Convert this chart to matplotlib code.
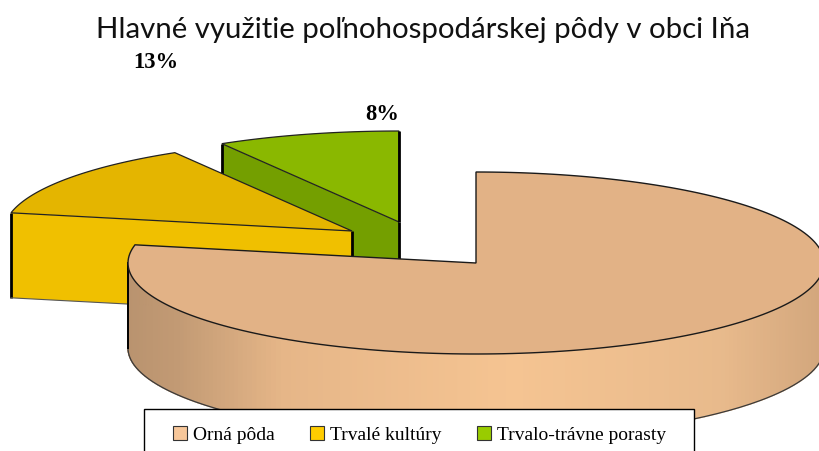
import numpy as np
import matplotlib
matplotlib.use("Agg")
import matplotlib.pyplot as plt
from matplotlib.patches import Polygon, Patch, Rectangle

title = "Hlavné využitie poľnohospodárskej pôdy v obci Iňa"
categories = ["Orná pôda", "Trvalé kultúry", "Trvalo-trávne porasty"]
values = [78.2, 13.3, 8.5]
shown_labels = [None, "13%", "8%"]

legend_colors = ["#F7C79A", "#FFCC00", "#99CC00"]
top_colors = ["#E2B286", "#E4B500", "#8AB800"]
face_colors = [None, "#F0C000", "#749F00"]
centers = [(476, 264), (352, 232), (399, 223)]
label_pos = [None, (156, 62), (382, 115)]
RX, RY, H = 348, 91, 85

fig = plt.figure(figsize=(8.19, 4.52), dpi=100, facecolor="white")
ax = fig.add_axes([0, 0, 1, 1])
ax.set_xlim(0, 819)
ax.set_ylim(452, 0)
ax.axis("off")

# start/end angles derived from the values (clockwise from 12 o'clock)
fr = np.array(values) / sum(values) * 360
starts = 90 - np.concatenate([[0], np.cumsum(fr)[:-1]])
ends = starts - fr


def rim(c, a0, a1, dz=0, n=200):
    t = np.radians(np.linspace(a0, a1, n))
    return np.column_stack([c[0] + RX * np.cos(t), c[1] - RY * np.sin(t) + dz])


def apex_poly(c, a0, a1):
    return np.vstack([[c], rim(c, a0, a1)])


# green and yellow: front cut face first, then top
for i in (2, 1):
    c = centers[i]
    base = 2 + (2 - i) * 3
    p = rim(c, starts[i], starts[i], n=1)[0]
    ax.add_patch(Polygon([p, c, (c[0], c[1] + H), (p[0], p[1] + H)], closed=True,
                         facecolor=face_colors[i], edgecolor="none", zorder=base))
    ax.plot([p[0], p[0]], [p[1], p[1] + H], color="black", lw=2.0, zorder=base + 1, solid_capstyle="butt")
    ax.plot([c[0], c[0]], [c[1], c[1] + H], color="black", lw=2.0, zorder=base + 1, solid_capstyle="butt")
    ax.plot([p[0], c[0]], [p[1] + H, c[1] + H], color="#555555", lw=0.8, zorder=base + 1)
    ax.add_patch(Polygon(apex_poly(c, starts[i], ends[i]), closed=True, facecolor=top_colors[i],
                         edgecolor="#222222", lw=0.9, joinstyle="miter", zorder=base + 2))
    if i == 2:
        ax.plot([c[0], c[0]], [c[1] - RY, c[1]], color="black", lw=2.0, zorder=base + 3, solid_capstyle="butt")

# big slice: shaded side wall
c = centers[0]
stops_t = [0.0, 0.07, 0.22, 0.55, 0.85, 1.0]
stops_r = np.array([[0xB9, 0x93, 0x6F], [0xC2, 0x9A, 0x74], [0xE6, 0xB6, 0x88],
                    [0xF5, 0xC4, 0x92], [0xE8, 0xBA, 0x8C], [0xD2, 0xA6, 0x7C]]) / 255
angles = np.linspace(180, 360, 181)
for a0, a1 in zip(angles[:-1], angles[1:]):
    x0 = (np.cos(np.radians(a0)) + 1) / 2
    col = [np.interp(x0, stops_t, stops_r[:, k]) for k in range(3)]
    top = rim(c, a0, a1, n=4)
    bot = rim(c, a1, a0, dz=H, n=4)
    ax.add_patch(Polygon(np.vstack([top, bot]), closed=True, facecolor=col, edgecolor=col,
                         lw=1.0, zorder=10))
bx = rim(c, 180, 360, dz=H)
ax.plot(bx[:, 0], bx[:, 1], color="#3a3a3a", lw=0.9, zorder=11)
ax.plot([c[0] - RX, c[0] - RX], [c[1], c[1] + H], color="black", lw=1.4, zorder=11)

# big slice: top surface
ax.add_patch(Polygon(apex_poly(c, starts[0], ends[0]), closed=True, facecolor=top_colors[0],
                     edgecolor="#1a1a1a", lw=1.0, joinstyle="miter", zorder=12))

ax.text(423, 30, title, family="Lato", fontsize=21.2, ha="center", va="center", color="#111111", zorder=20)
for lab, pos in zip(shown_labels, label_pos):
    if lab:
        ax.text(pos[0], pos[1], lab, family="Liberation Serif", fontweight="bold", fontsize=16.3,
                ha="center", va="center", color="black", zorder=20)

ax.add_patch(Rectangle((144, 410), 550, 60, facecolor="white", edgecolor="black", lw=1.0, zorder=29))
handles = [Patch(facecolor=col, edgecolor="#333333", lw=0.8) for col in legend_colors]
leg = ax.legend(handles, categories, ncols=3, loc="center left",
                bbox_to_anchor=(173 / 819, 1 - 435.5 / 452), borderaxespad=0,
                prop={"family": "Liberation Serif", "size": 14}, frameon=False,
                handlelength=0.72, handleheight=0.72,
                handletextpad=0.31, columnspacing=1.82, borderpad=0)
leg.set_zorder(30)

fig.savefig("out.png", dpi=100, facecolor="white")
